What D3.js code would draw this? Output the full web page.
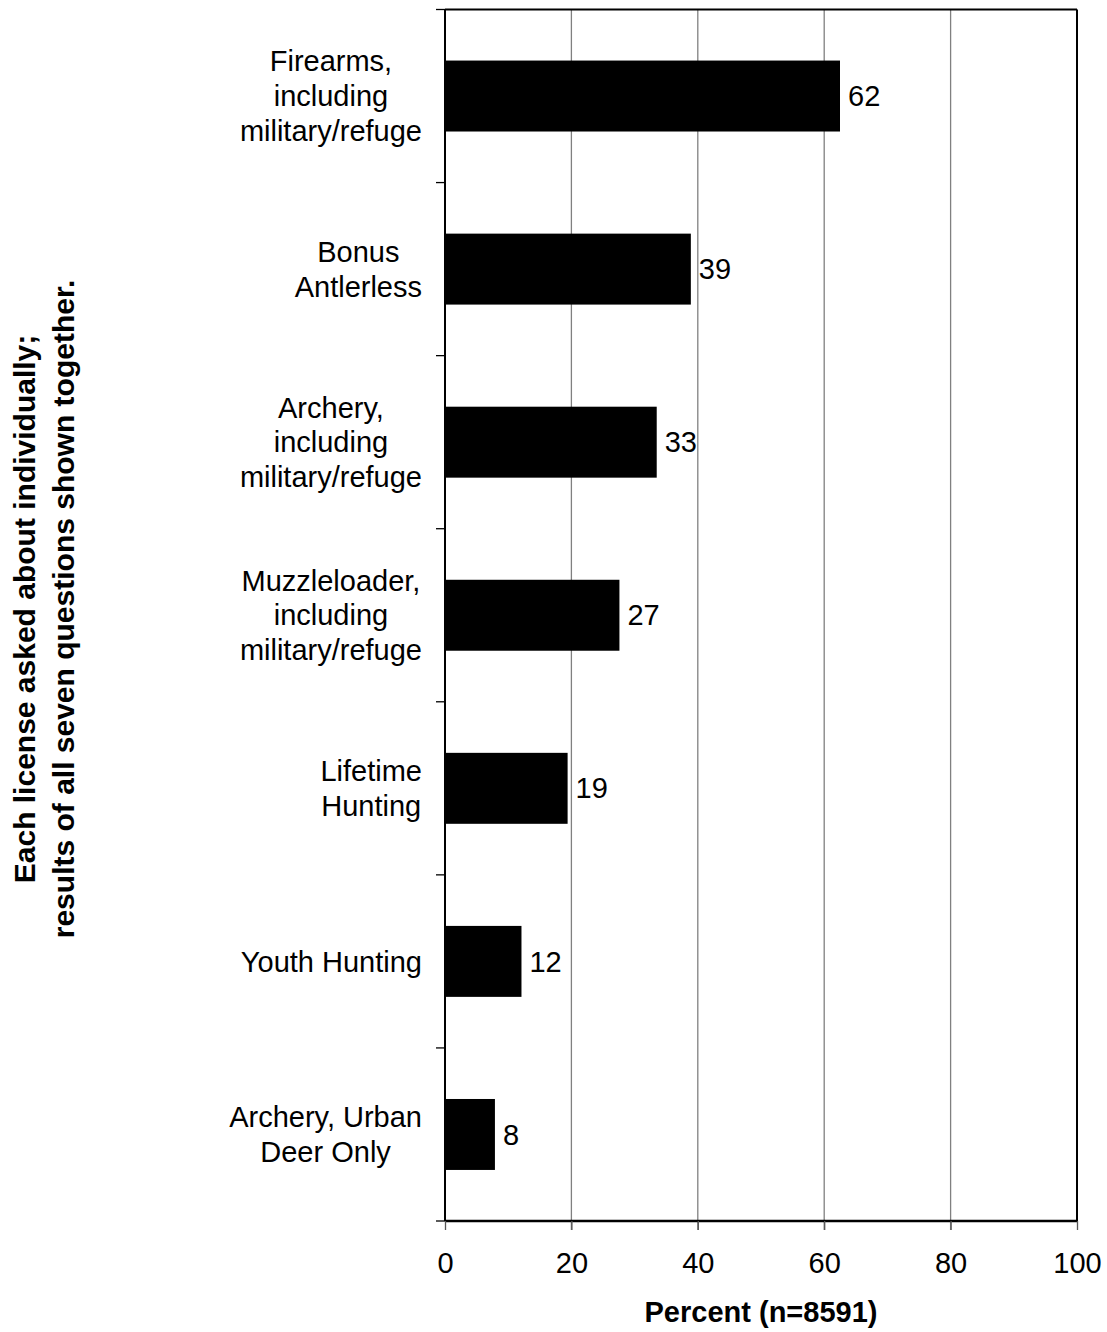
<!DOCTYPE html>
<html>
<head>
<meta charset="utf-8">
<script src="https://cdn.jsdelivr.net/npm/d3@7"></script>
<style>
  body { margin: 0; background: #fff; }
  svg { display: block; font-family: "Liberation Sans", Arial, sans-serif; }
</style>
</head>
<body>
<div id="chart"></div>
<script>
// licence types, top to bottom
var categories = [
    "Firearms,\nincluding\nmilitary/refuge",
    "Bonus\nAntlerless",
    "Archery,\nincluding\nmilitary/refuge",
    "Muzzleloader,\nincluding\nmilitary/refuge",
    "Lifetime\nHunting",
    "Youth Hunting",
    "Archery, Urban\nDeer Only"
];
// percent holding each licence (bar lengths)
var percents = [62.5, 38.9, 33.5, 27.6, 19.4, 12.1, 7.9];
// printed value labels
var valueLabels = ["62", "39", "33", "27", "19", "12", "8"];
var xTicks = [0, 20, 40, 60, 80, 100];
var xTitle = "Percent (n=8591)";
var yTitle = ["Each license asked about individually;", "results of all seven questions shown together."];

var W = 1107, H = 1332;
var margin = { top: 9.5, right: 30, bottom: 111, left: 445 },
    width = W - margin.left - margin.right,
    height = H - margin.top - margin.bottom;
var fontSize = 29;

var svg = d3.select("#chart").append("svg").attr("width", W).attr("height", H);
var g = svg.append("g").attr("transform", "translate(" + margin.left + "," + margin.top + ")");

var x = d3.scaleLinear().domain([0, 100]).range([0, width]);
var pad = 0.59;
var y = d3.scaleBand().domain(d3.range(categories.length)).range([0, height]).paddingInner(pad).paddingOuter(pad / 2);

// vertical gridlines
g.append("g").selectAll("line").data(xTicks.slice(1, -1)).enter().append("line")
    .attr("x1", function(d) { return x(d); }).attr("x2", function(d) { return x(d); })
    .attr("y1", 0).attr("y2", height + 9)
    .attr("stroke", "#808080").attr("stroke-width", 1.3);

// bars
g.append("g").selectAll("rect").data(percents).enter().append("rect")
    .attr("x", 0)
    .attr("y", function(d, i) { return y(i); })
    .attr("width", function(d) { return x(d); })
    .attr("height", y.bandwidth())
    .attr("fill", "#000");

// value labels
g.append("g").selectAll("text").data(percents).enter().append("text")
    .attr("x", function(d) { return x(d) + 8; })
    .attr("y", function(d, i) { return y(i) + y.bandwidth() / 2; })
    .attr("dy", "0.35em")
    .attr("font-size", fontSize)
    .text(function(d, i) { return valueLabels[i]; });

// frame: top and right
g.append("line").attr("x1", 0).attr("x2", width).attr("y1", 0).attr("y2", 0).attr("stroke", "#000").attr("stroke-width", 2);
g.append("line").attr("x1", width).attr("x2", width).attr("y1", 0).attr("y2", height).attr("stroke", "#000").attr("stroke-width", 2);

// y axis: band boundary ticks
var bounds = d3.range(categories.length + 1).map(function(i) { return i * y.step(); });
g.append("g").selectAll("line").data(bounds).enter().append("line")
    .attr("x1", -9).attr("x2", 0)
    .attr("y1", function(d) { return d; }).attr("y2", function(d) { return d; })
    .attr("stroke", "#000").attr("stroke-width", 1.3);
g.append("line").attr("x1", 0).attr("x2", 0).attr("y1", 0).attr("y2", height).attr("stroke", "#000").attr("stroke-width", 2);

// category labels, lines centred within a block whose right edge sits left of the axis
categories.forEach(function(c, i) {
    var lines = c.split("\n");
    var t = g.append("text").attr("font-size", fontSize).attr("text-anchor", "middle");
    var lh = 34.8;
    var cy = y(i) + y.bandwidth() / 2;
    var spans = lines.map(function(l, k) {
        return t.append("tspan")
            .attr("y", cy + (k - (lines.length - 1) / 2) * lh)
            .attr("dy", "0.35em")
            .text(l);
    });
    var maxW = d3.max(spans, function(s) { return s.node().getComputedTextLength(); });
    spans.forEach(function(s) { s.attr("x", -23 - maxW / 2); });
});

// x axis
var xAxis = g.append("g").attr("transform", "translate(0," + height + ")")
    .call(d3.axisBottom(x).tickValues(xTicks).tickSize(9).tickFormat(d3.format("d")));
xAxis.select(".domain").attr("stroke", "#000").attr("stroke-width", 2.5).attr("d", "M0,0H" + width);
xAxis.selectAll(".tick line").attr("stroke", "#555").attr("stroke-width", 1.3);
xAxis.selectAll(".tick text")
    .attr("font-size", fontSize).attr("font-family", null).attr("fill", "#000")
    .attr("y", 52).attr("dy", 0);

// axis titles
svg.append("text")
    .attr("x", margin.left + width / 2).attr("y", 1322)
    .attr("text-anchor", "middle").attr("font-size", fontSize).attr("font-weight", "bold")
    .text(xTitle);

var yt = svg.append("text")
    .attr("transform", "translate(0,609) rotate(-90)")
    .attr("text-anchor", "middle").attr("font-size", 30).attr("font-weight", "bold");
yt.append("tspan").attr("x", 0).attr("y", 35).text(yTitle[0]);
yt.append("tspan").attr("x", 0).attr("y", 74).text(yTitle[1]);
</script>
</body>
</html>
